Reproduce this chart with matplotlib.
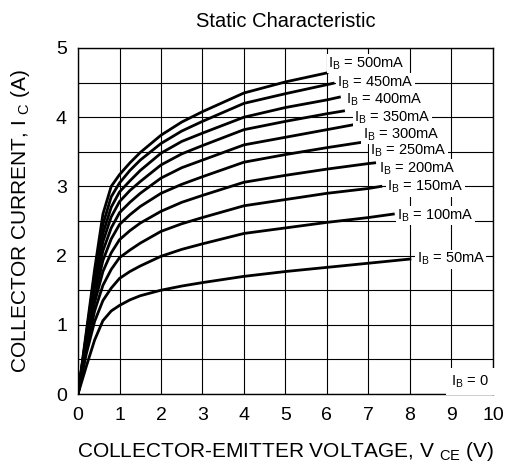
import matplotlib
matplotlib.use("Agg")
import matplotlib.pyplot as plt
import numpy as np

plt.rcParams['font.family'] = ['Liberation Sans', 'DejaVu Sans']
plt.rcParams['mathtext.fontset'] = 'custom'
plt.rcParams['mathtext.rm'] = 'Liberation Sans'

# base current (mA)
ib = [500, 450, 400, 350, 300, 250, 200, 150, 100, 50]

# voltage points (V); each curve also has its own end point
vce = [0, 0.2, 0.4, 0.6, 0.8, 1.0, 1.25, 1.5, 2, 2.5, 3, 4, 5, 6, 7]
ic = {
    500: [0, 0.90, 1.80, 2.60, 3.00, 3.17, 3.34, 3.49, 3.74, 3.93, 4.08, 4.35, 4.51],
    450: [0, 0.86, 1.72, 2.45, 2.85, 3.05, 3.23, 3.38, 3.62, 3.80, 3.94, 4.20, 4.34, 4.47],
    400: [0, 0.83, 1.65, 2.32, 2.70, 2.92, 3.08, 3.23, 3.48, 3.65, 3.77, 4.00, 4.14, 4.25],
    350: [0, 0.80, 1.58, 2.20, 2.56, 2.78, 2.94, 3.07, 3.31, 3.47, 3.59, 3.82, 3.94, 4.05],
    300: [0, 0.77, 1.50, 2.07, 2.40, 2.62, 2.77, 2.90, 3.12, 3.27, 3.38, 3.60, 3.71, 3.82],
    250: [0, 0.74, 1.42, 1.93, 2.24, 2.45, 2.59, 2.71, 2.90, 3.03, 3.14, 3.35, 3.46, 3.56],
    200: [0, 0.70, 1.32, 1.77, 2.04, 2.23, 2.36, 2.47, 2.64, 2.77, 2.87, 3.06, 3.16, 3.25, 3.33],
    150: [0, 0.65, 1.20, 1.57, 1.80, 1.97, 2.08, 2.18, 2.35, 2.46, 2.55, 2.72, 2.81, 2.90, 2.97],
    100: [0, 0.58, 1.05, 1.35, 1.53, 1.67, 1.77, 1.85, 1.99, 2.09, 2.17, 2.32, 2.40, 2.48, 2.55],
    50:  [0, 0.40, 0.78, 1.06, 1.20, 1.28, 1.36, 1.42, 1.50, 1.56, 1.61, 1.70, 1.77, 1.83, 1.89],
}
end_v = {500: 6.0, 450: 6.15, 400: 6.3, 350: 6.4, 300: 6.63, 250: 6.87,
         200: 7.15, 150: 7.3, 100: 7.6, 50: 8.0}
end_i = {500: 4.64, 450: 4.49, 400: 4.29, 350: 4.09, 300: 3.89, 250: 3.64,
         200: 3.34, 150: 3.0, 100: 2.6, 50: 1.95}

# label anchor (left, centre) for each curve
lab_v = {500: 6.03, 450: 6.25, 400: 6.45, 350: 6.65, 300: 6.86, 250: 7.05,
         200: 7.26, 150: 7.45, 100: 7.69, 50: 8.16}
lab_i = {500: 4.77, 450: 4.50, 400: 4.26, 350: 4.00, 300: 3.75, 250: 3.51,
         200: 3.26, 150: 2.99, 100: 2.58, 50: 1.95}

fig = plt.figure(figsize=(5.05, 4.66), dpi=100)
ax = fig.add_axes([0.1545, 0.1545, 0.8215, 0.7425])

for b in ib:
    x = [v for v in vce if v < end_v[b]] + [end_v[b]]
    y = ic[b][:len(x) - 1] + [end_i[b]]
    ax.plot(x, y, color='black', lw=2.0, solid_joinstyle='round', zorder=3)
    ax.text(lab_v[b], lab_i[b], r'I$_\mathregular{B}$ = %dmA' % b,
            fontsize=10.5, va='center', ha='left', zorder=4,
            bbox=dict(facecolor='white', edgecolor='none', pad=0.8))

ax.text(9.0, 0.18, r'I$_\mathregular{B}$ = 0', fontsize=10.5, va='center',
        ha='left', zorder=4,
        bbox=dict(facecolor='white', edgecolor='none', pad=4))

ax.set_xlim(0, 10)
ax.set_ylim(0, 5)
ax.set_xticks(np.arange(0, 11, 1))
ax.set_yticks(np.arange(0, 6, 1))
ax.set_yticks(np.arange(0.5, 5, 1), minor=True)
ax.grid(True, which='both', color='black', lw=0.8, zorder=1)
ax.set_axisbelow(True)
ax.tick_params(which='both', length=0, labelsize=14)
ax.tick_params(axis='x', pad=9)
ax.tick_params(axis='y', pad=8)
for s in ax.spines.values():
    s.set_linewidth(1.0)

ax.set_title('Static Characteristic', fontsize=14.5, pad=15)
ax.set_xlabel(r'COLLECTOR-EMITTER VOLTAGE, V $_\mathregular{CE}$ (V)',
              fontsize=15, labelpad=12)
ax.set_ylabel(r'COLLECTOR CURRENT, I $_\mathregular{C}$ (A)',
              fontsize=15, labelpad=17)

fig.savefig('out.png', dpi=100)
